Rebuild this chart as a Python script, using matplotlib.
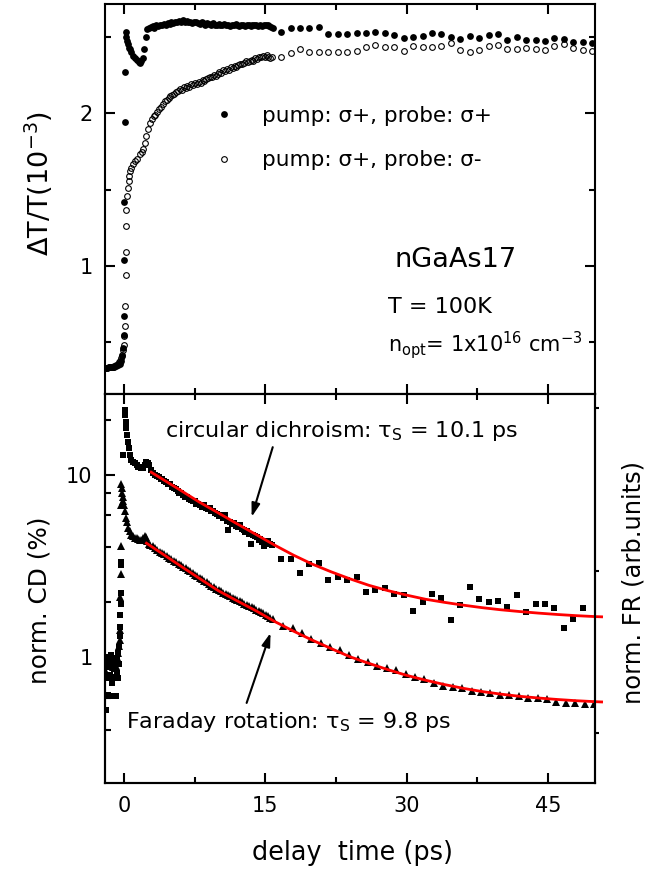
import numpy as np
import matplotlib
matplotlib.use('Agg')
import matplotlib.pyplot as plt

plt.rcParams['font.family'] = ['DejaVu Sans']
plt.rcParams['mathtext.fontset'] = 'dejavusans'

# ---------------- top panel: dT/T (10^-3) ----------------
# pump s+, probe s+ (filled circles)
pp_t_early = [-2.0, -1.8, -1.6, -1.4, -1.2, -1.0, -0.8, -0.6, -0.45, -0.3, -0.15, -0.05, -0.02,
              0.0, 0.02, 0.04, 0.08, 0.1, 0.2, 0.25, 0.3, 0.4, 0.5, 0.64, 0.8, 1.0, 1.2, 1.4,
              1.6, 1.7, 1.85, 2.0, 2.15, 2.3]
pp_v_early = [0.335, 0.335, 0.34, 0.338, 0.34, 0.342, 0.345, 0.35, 0.36, 0.38, 0.41, 0.463, 0.546,
              0.675, 1.04, 1.42, 1.94, 2.27, 2.53, 2.50, 2.47, 2.45, 2.43, 2.42, 2.40, 2.375, 2.36, 2.35,
              2.335, 2.33, 2.34, 2.36, 2.42, 2.50]
pp_v_dense = [2.55, 2.56, 2.565, 2.57, 2.56, 2.575, 2.57, 2.58, 2.575, 2.585,
              2.58, 2.59, 2.585, 2.595, 2.59, 2.60, 2.595, 2.605, 2.60, 2.61,
              2.60, 2.605, 2.595, 2.60, 2.59, 2.60, 2.595, 2.59, 2.585, 2.595,
              2.59, 2.58, 2.59, 2.585, 2.58, 2.59, 2.58, 2.575, 2.585, 2.58,
              2.575, 2.585, 2.58, 2.575, 2.57, 2.58, 2.575, 2.585, 2.575, 2.57,
              2.58, 2.575, 2.57, 2.58, 2.575, 2.57, 2.575, 2.58, 2.575, 2.57,
              2.575, 2.57, 2.575, 2.58, 2.575, 2.57, 2.565, 2.56]
pp_dense_range = (2.45, 15.85)
pp_v_sparse = [2.534, 2.556, 2.556, 2.560, 2.567, 2.517, 2.517, 2.517, 2.524, 2.524,
               2.534, 2.524, 2.512, 2.491, 2.497, 2.506, 2.524, 2.517, 2.497, 2.484,
               2.506, 2.491, 2.512, 2.517, 2.480, 2.497, 2.480, 2.480, 2.475, 2.491,
               2.484, 2.469, 2.469, 2.458]
pp_sparse_range = (16.7, 49.7)

# pump s+, probe s- (open circles)
pm_t_early = [-2.0, -1.8, -1.6, -1.4, -1.2, -1.0, -0.8, -0.65, -0.5, -0.4, -0.3, -0.2, -0.1, 0.0,
              0.05, 0.1, 0.15, 0.2, 0.22, 0.25, 0.28, 0.33, 0.4, 0.5, 0.56, 0.7, 0.81, 1.0, 1.17,
              1.4, 1.69, 1.9, 2.05, 2.2, 2.4, 2.6, 2.75]
pm_v_early = [0.335, 0.335, 0.337, 0.338, 0.34, 0.343, 0.35, 0.358, 0.37, 0.382, 0.40, 0.42, 0.45, 0.485,
              0.54, 0.605, 0.736, 0.944, 1.09, 1.265, 1.37, 1.457, 1.512, 1.56, 1.588, 1.62, 1.643, 1.665, 1.687,
              1.70, 1.731, 1.745, 1.764, 1.808, 1.851, 1.895, 1.939]
pm_v_dense = [1.965, 1.985, 1.99, 2.01, 2.03, 2.04, 2.06, 2.08, 2.085, 2.10,
              2.11, 2.12, 2.125, 2.14, 2.145, 2.16, 2.155, 2.17, 2.165, 2.18,
              2.175, 2.19, 2.185, 2.20, 2.19, 2.205, 2.20, 2.215, 2.21, 2.225,
              2.23, 2.235, 2.24, 2.25, 2.245, 2.26, 2.27, 2.265, 2.28, 2.275,
              2.29, 2.285, 2.30, 2.295, 2.31, 2.305, 2.315, 2.325, 2.32, 2.33,
              2.34, 2.335, 2.345, 2.35, 2.345, 2.36, 2.355, 2.365, 2.37, 2.375,
              2.37, 2.38, 2.37, 2.36, 2.365]
pm_dense_range = (2.95, 15.75)
pm_v_sparse = [2.370, 2.393, 2.419, 2.403, 2.403, 2.403, 2.399, 2.399, 2.408, 2.436,
               2.447, 2.436, 2.432, 2.410, 2.440, 2.436, 2.436, 2.440, 2.462, 2.414,
               2.403, 2.414, 2.440, 2.447, 2.419, 2.419, 2.429, 2.419, 2.414, 2.440,
               2.452, 2.425, 2.414, 2.410]
pm_sparse_range = (16.7, 49.7)

# ---------------- bottom panel: normalized CD (%) / FR ----------------
cd_t_early = [-2.0, -1.95, -1.9, -1.85, -1.8, -1.7, -1.65, -1.6, -1.5, -1.45, -1.4, -1.3, -1.25, -1.2,
              -1.1, -1.05, -1.0, -0.9, -0.85, -0.8, -0.75, -0.7, -0.65, -0.6, -0.55, -0.5, -0.45, -0.4,
              -0.37, -0.34, -0.32, -0.28, -0.25, -0.07, 0.1, 0.15, 0.2, 0.28, 0.35, 0.46, 0.56, 0.64,
              0.8, 0.95, 1.17, 1.35, 1.5, 1.7, 1.85, 2.05, 2.25, 2.4, 2.55, 2.7, 2.9]
cd_v_early = [0.96, 0.61, 0.51, 0.78, 1.0, 0.62, 0.88, 0.97, 0.61, 0.80, 1.03, 0.72, 0.61, 0.93,
              0.78, 0.99, 0.86, 0.77, 0.97, 0.61, 0.82, 0.99, 0.77, 1.05, 0.92, 1.14, 1.30, 1.47,
              1.71, 1.95, 2.25, 3.2, 3.34, 12.8, 22.8, 21.3, 19.6, 18.0, 16.6, 15.2, 14.0, 12.9,
              12.1, 11.8, 11.6, 11.3, 11.1, 11.1, 10.95, 10.9, 11.3, 11.8, 11.6, 11.35, 10.6]
cd_v_dense = [10.2, 10.0, 9.9, 9.75, 9.5, 9.5, 9.3, 9.2, 8.95, 8.9,
              8.6, 8.5, 8.35, 8.2, 8.0, 7.95, 7.75, 7.6, 7.55, 7.35,
              7.3, 7.15, 7.2, 6.95, 6.9, 6.85, 6.7, 6.8, 6.55, 6.5,
              6.55, 6.3, 6.35, 6.15, 6.1, 5.95, 6.05, 5.8, 6.05, 5.6,
              5.0, 5.55, 5.4, 5.45, 5.25, 5.2, 5.3, 5.05, 5.0, 4.85,
              4.95, 4.75, 4.2, 4.7, 4.6, 4.55, 4.4, 4.45, 4.3, 4.05,
              4.3, 4.35, 4.2, 4.15]
cd_dense_range = (3.1, 15.7)
cd_v_sparse = [3.45, 3.45, 2.91, 3.25, 3.28, 2.66, 2.75, 2.66, 2.75, 2.27,
               2.34, 2.41, 2.22, 2.18, 1.80, 2.00, 2.23, 2.12, 1.59, 1.94,
               2.42, 2.08, 2.00, 2.04, 1.88, 2.18, 1.76, 1.95, 1.95, 1.86,
               1.44, 1.62, 1.87]
cd_sparse_range = (16.7, 48.7)

fr_t_early = [-2.0, -1.8, -1.6, -1.4, -1.2, -1.0, -0.8, -0.7, -0.6, -0.5, -0.45, -0.4, -0.37, -0.33,
              -0.3, -0.27, -0.25, -0.2, -0.15, -0.1, -0.05, 0.0, 0.1, 0.2, 0.3, 0.45, 0.6, 0.8, 1.0,
              1.2, 1.35, 1.55, 1.7, 1.9, 2.05, 2.2, 2.35, 2.5, 2.65]
fr_v_early = [0.85, 0.92, 0.78, 0.95, 0.88, 0.98, 0.90, 1.0, 1.05, 1.15, 1.25, 1.41, 2.15, 2.85,
              4.05, 6.8, 8.9, 8.5, 8.0, 7.6, 7.2, 6.8, 6.3, 5.8, 5.5, 5.1, 4.9, 4.7, 4.6,
              4.52, 4.5, 4.45, 4.42, 4.4, 4.5, 4.65, 4.55, 4.35, 4.2]
fr_v_dense = [4.12, 4.05, 3.96, 3.89, 3.80, 3.74, 3.67, 3.60, 3.52, 3.46,
              3.39, 3.33, 3.26, 3.20, 3.13, 3.07, 3.01, 2.96, 2.90, 2.84,
              2.79, 2.73, 2.68, 2.63, 2.57, 2.52, 2.47, 2.43, 2.38, 2.33,
              2.30, 2.26, 2.23, 2.19, 2.16, 2.12, 2.09, 2.06, 2.03, 2.00,
              1.97, 1.94, 1.91, 1.88, 1.85, 1.82, 1.79, 1.77, 1.74, 1.71,
              1.68, 1.65, 1.62]
fr_dense_range = (2.8, 15.8)
fr_v_sparse = [1.485, 1.44, 1.355, 1.26, 1.19, 1.135, 1.097, 1.03, 0.98, 0.94,
               0.896, 0.877, 0.851, 0.807, 0.783, 0.755, 0.72, 0.697, 0.690, 0.676,
               0.656, 0.648, 0.635, 0.621, 0.621, 0.616, 0.600, 0.595, 0.588, 0.570,
               0.559, 0.559, 0.554, 0.556]
fr_sparse_range = (16.9, 49.9)

# exponential fits (red lines)
cd_fit_t = [2.9, 4, 6, 8, 10, 12, 14, 16, 18, 20, 22, 24, 26, 28, 30, 32, 34, 36, 38, 40,
            42, 44, 46, 48, 50, 50.7]
cd_fit_v = [10.35, 9.55, 8.25, 7.1, 6.2, 5.4, 4.72, 4.12, 3.63, 3.24, 2.94, 2.69, 2.48, 2.32,
            2.19, 2.08, 2.00, 1.93, 1.87, 1.82, 1.78, 1.745, 1.715, 1.69, 1.67, 1.665]
fr_fit_t = [2.4, 4, 6, 8, 10, 12, 14, 16, 18, 20, 22, 24, 26, 28, 30, 32, 34, 36, 38, 40,
            42, 44, 46, 48, 50, 50.7]
fr_fit_v = [4.22, 3.72, 3.17, 2.71, 2.32, 2.04, 1.80, 1.57, 1.39, 1.24, 1.115, 1.005, 0.925,
            0.855, 0.795, 0.748, 0.708, 0.675, 0.648, 0.627, 0.61, 0.597, 0.586, 0.577, 0.570, 0.568]

x_major = [0, 15, 30, 45]
x_minor = [7.5, 22.5, 37.5]


def series(t_early, v_early, v_dense, dense_rng, v_sparse, sparse_rng):
    t = np.concatenate([t_early,
                        np.linspace(dense_rng[0], dense_rng[1], len(v_dense)),
                        np.linspace(sparse_rng[0], sparse_rng[1], len(v_sparse))])
    v = np.concatenate([v_early, v_dense, v_sparse])
    return t, v


W, H = 646, 874
fig = plt.figure(figsize=(W / 100, H / 100), dpi=100)


def fx(px):
    return px / W


def fy(py):
    return 1 - py / H


L, R, T1, MID, B2 = 105, 595, 4, 394, 783
ax1 = fig.add_axes([fx(L), fy(MID), fx(R) - fx(L), fy(T1) - fy(MID)])
ax2 = fig.add_axes([fx(L), fy(B2), fx(R) - fx(L), fy(MID) - fy(B2)])

# ---- top panel ----
t, v = series(pp_t_early, pp_v_early, pp_v_dense, pp_dense_range, pp_v_sparse, pp_sparse_range)
h1, = ax1.plot(t, v, 'o', ms=4.9, color='black', mew=0, label='pump: σ+, probe: σ+')
t, v = series(pm_t_early, pm_v_early, pm_v_dense, pm_dense_range, pm_v_sparse, pm_sparse_range)
h2, = ax1.plot(t, v, 'o', ms=4.1, mfc='none', mec='black', mew=0.8, label='pump: σ+, probe: σ-')

ax1.set_xlim(-2, 50)
ax1.set_ylim(0.163, 2.715)
ax1.set_xticks(x_major)
ax1.set_xticks(x_minor, minor=True)
ax1.set_yticks([1, 2])
ax1.set_yticks([0.5, 1.5, 2.5], minor=True)
ax1.set_yticklabels(['1', '2'])
ax1.tick_params(which='both', direction='in', top=True, right=True, labelbottom=False,
                width=1.5, labelsize=15, pad=9)
ax1.tick_params(which='major', length=7)
ax1.tick_params(which='minor', length=4)

ax1.legend(handles=[h1, h2], loc='upper left', bbox_to_anchor=(0.221, 0.739), frameon=False,
           fontsize=15.5, handlelength=1.0, handletextpad=1.25, labelspacing=1.13,
           borderpad=0, borderaxespad=0, numpoints=1)

ax1.text(0.715, 0.326, 'nGaAs17', fontsize=19.5, ha='center', va='baseline', transform=ax1.transAxes)
ax1.text(0.578, 0.208, 'T = 100K', fontsize=16, ha='left', va='baseline', transform=ax1.transAxes)
ax1.text(0.578, 0.108, r'n$_{\mathregular{opt}}$= 1x10$^{\mathregular{16}}$ cm$^{\mathregular{-3}}$',
         fontsize=15, ha='left', va='baseline', transform=ax1.transAxes)

# ---- bottom panel ----
t, v = series(cd_t_early, cd_v_early, cd_v_dense, cd_dense_range, cd_v_sparse, cd_sparse_range)
ax2.plot(t, v, 's', ms=4.8, color='black', mew=0)
t, v = series(fr_t_early, fr_v_early, fr_v_dense, fr_dense_range, fr_v_sparse, fr_sparse_range)
ax2.plot(t, v, '^', ms=5.2, color='black', mew=0)
ax2.plot(cd_fit_t, cd_fit_v, '-', color='#ff0000', lw=2.0, zorder=5, clip_on=False)
ax2.plot(fr_fit_t, fr_fit_v, '-', color='#ff0000', lw=2.0, zorder=5, clip_on=False)

ax2.set_yscale('log')
ax2.set_xlim(-2, 50)
ax2.set_ylim(0.204, 27.8)
ax2.set_xticks(x_major)
ax2.set_xticks(x_minor, minor=True)
ax2.set_xticklabels(['0', '15', '30', '45'])
ax2.set_yticks([1, 10])
ax2.set_yticklabels(['1', '10'])
ax2.set_yticks([0.4, 0.6, 0.8, 2, 4, 6, 8, 20], minor=True)
ax2.yaxis.set_minor_formatter(plt.NullFormatter())
ax2.tick_params(which='both', direction='in', top=True, right=False, width=1.5,
                labelsize=15, pad=9)
ax2.tick_params(which='major', length=7)
ax2.tick_params(which='minor', length=4)

ax3 = ax2.twinx()
ax3.set_ylim(0.694, 3.086)
ax3.set_yticks([1, 2, 3])
ax3.set_yticklabels([])
ax3.tick_params(axis='y', direction='out', length=3, width=1.5)

for a in (ax1, ax2, ax3):
    for s in a.spines.values():
        s.set_linewidth(1.5)

ax2.text(0.1224, 0.890, 'circular dichroism: τ$_{\\mathregular{S}}$ = 10.1 ps', fontsize=16,
         ha='left', va='baseline', transform=ax2.transAxes)
ax2.text(0.0429, 0.1406, 'Faraday rotation: τ$_{\\mathregular{S}}$ = 9.8 ps', fontsize=16,
         ha='left', va='baseline', transform=ax2.transAxes)

arrow = dict(arrowstyle='-|>,head_length=0.8,head_width=0.25', color='black', lw=1.5,
             mutation_scale=10, shrinkA=0, shrinkB=0)
ax2.annotate('', xy=(13.56, 5.88), xytext=(15.8, 14.2), arrowprops=arrow)
ax2.annotate('', xy=(15.57, 1.36), xytext=(13.03, 0.561), arrowprops=arrow)

fig.text(fx(39), fy(183.5), 'ΔT/T(10$^{\\mathregular{-3}}$)', rotation=90, ha='center', va='center',
         fontsize=19.5)
fig.text(fx(40), fy(600), 'norm. CD (%)', rotation=90, ha='center', va='center', fontsize=17.8)
fig.text(fx(633), fy(583), 'norm. FR (arb.units)', rotation=90, ha='center', va='center', fontsize=17.4)
fig.text(fx(352.5), fy(853), 'delay  time (ps)', ha='center', va='center', fontsize=18.4)

fig.savefig('out.png', dpi=100)
